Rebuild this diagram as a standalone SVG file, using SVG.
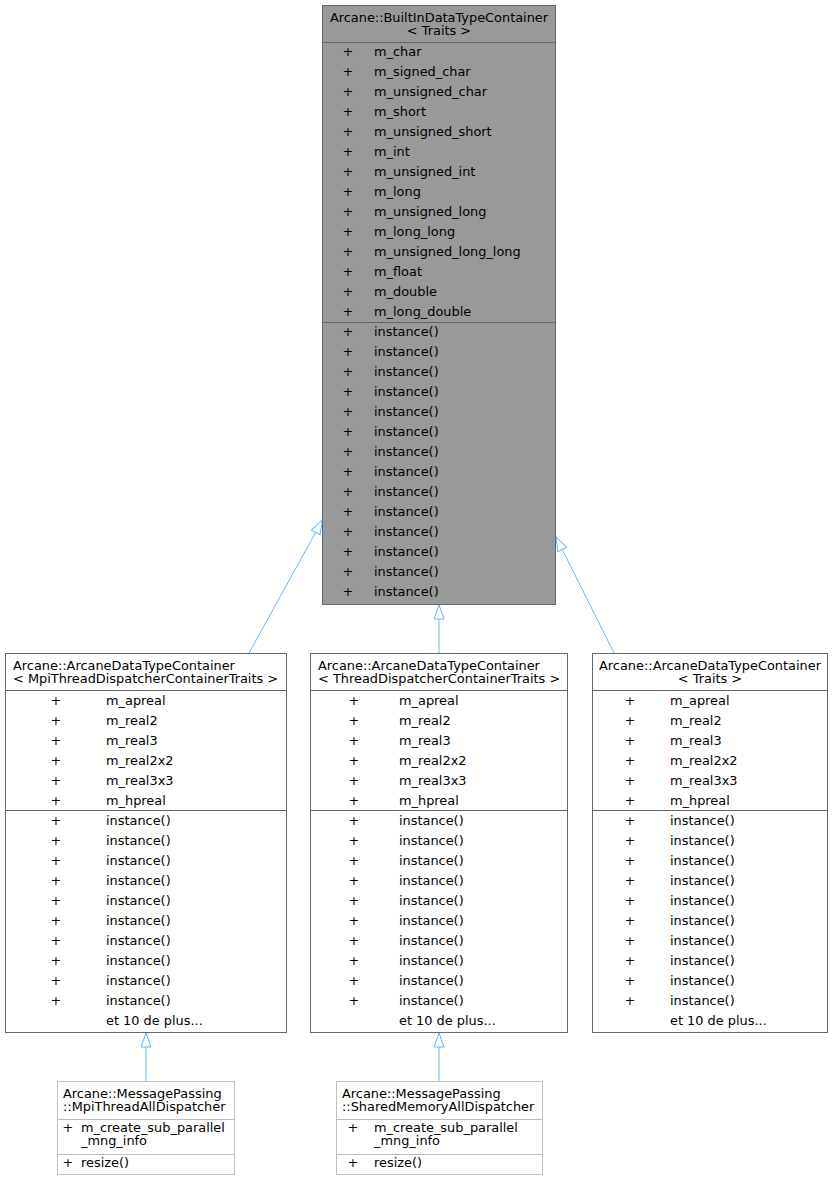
<svg xmlns="http://www.w3.org/2000/svg" width="833" height="1181" viewBox="0 0 833 1181">
<style>
text{font-family:"DejaVu Sans","Liberation Sans",sans-serif;font-size:12.9px;fill:#000}
.c{text-anchor:middle}
.box{fill:#fff;stroke:#666;stroke-width:1}
.grey{fill:#999;stroke:#666;stroke-width:1}
.lt{fill:#fff;stroke:#bfbfbf;stroke-width:1}
.dv{stroke:#666;stroke-width:1}
.dvl{stroke:#bfbfbf;stroke-width:1}
.e{fill:none;stroke:#63b8ff;stroke-width:1;marker-end:url(#arr)}
</style>
<defs>
<marker id="arr" markerUnits="userSpaceOnUse" markerWidth="16" markerHeight="12" refX="15" refY="6" orient="auto">
<path d="M1,1 L15,6 L1,11 Z" fill="#fff" stroke="#63b8ff" stroke-width="1"/>
</marker>
</defs>
<rect width="833" height="1181" fill="#fff"/>

<g id="connectors">
<path class="e" d="M249,653 L322.5,520"/>
<path class="e" d="M439,653 L439,605"/>
<path class="e" d="M614,653 L556,537"/>
<path class="e" d="M146,1081 L146,1033"/>
<path class="e" d="M439,1081 L439,1033"/>
</g>

<g id="builtin">
<rect class="grey" x="322.5" y="5.5" width="233" height="599"/>
<line class="dv" x1="322.5" y1="42.5" x2="555.5" y2="42.5"/>
<line class="dv" x1="322.5" y1="322.5" x2="555.5" y2="322.5"/>
<text class="c" x="439" y="22">Arcane::BuiltInDataTypeContainer</text>
<text class="c" x="439" y="35">&lt; Traits &gt;</text>
<text class="c" x="348" y="56">+</text><text class="c" x="348" y="76">+</text><text class="c" x="348" y="96">+</text><text class="c" x="348" y="116">+</text><text class="c" x="348" y="136">+</text><text class="c" x="348" y="156">+</text><text class="c" x="348" y="176">+</text><text class="c" x="348" y="196">+</text><text class="c" x="348" y="216">+</text><text class="c" x="348" y="236">+</text><text class="c" x="348" y="256">+</text><text class="c" x="348" y="276">+</text><text class="c" x="348" y="296">+</text><text class="c" x="348" y="316">+</text>
<text class="c" x="348" y="336">+</text><text class="c" x="348" y="356">+</text><text class="c" x="348" y="376">+</text><text class="c" x="348" y="396">+</text><text class="c" x="348" y="416">+</text><text class="c" x="348" y="436">+</text><text class="c" x="348" y="456">+</text><text class="c" x="348" y="476">+</text><text class="c" x="348" y="496">+</text><text class="c" x="348" y="516">+</text><text class="c" x="348" y="536">+</text><text class="c" x="348" y="556">+</text><text class="c" x="348" y="576">+</text><text class="c" x="348" y="596">+</text>
<text x="374" y="56">m_char</text>
<text x="374" y="76">m_signed_char</text>
<text x="374" y="96">m_unsigned_char</text>
<text x="374" y="116">m_short</text>
<text x="374" y="136">m_unsigned_short</text>
<text x="374" y="156">m_int</text>
<text x="374" y="176">m_unsigned_int</text>
<text x="374" y="196">m_long</text>
<text x="374" y="216">m_unsigned_long</text>
<text x="374" y="236">m_long_long</text>
<text x="374" y="256">m_unsigned_long_long</text>
<text x="374" y="276">m_float</text>
<text x="374" y="296">m_double</text>
<text x="374" y="316">m_long_double</text>
<text x="374" y="336">instance()</text><text x="374" y="356">instance()</text><text x="374" y="376">instance()</text><text x="374" y="396">instance()</text><text x="374" y="416">instance()</text><text x="374" y="436">instance()</text><text x="374" y="456">instance()</text><text x="374" y="476">instance()</text><text x="374" y="496">instance()</text><text x="374" y="516">instance()</text><text x="374" y="536">instance()</text><text x="374" y="556">instance()</text><text x="374" y="576">instance()</text><text x="374" y="596">instance()</text>
</g>

<g id="mpiContainer">
<rect class="box" x="5.5" y="653.5" width="281" height="379"/>
<line class="dv" x1="5.5" y1="690.5" x2="286.5" y2="690.5"/>
<line class="dv" x1="5.5" y1="810.5" x2="286.5" y2="810.5"/>
<text x="13" y="670">Arcane::ArcaneDataTypeContainer</text>
<text x="13" y="683">&lt; MpiThreadDispatcherContainerTraits &gt;</text>
<text class="c" x="56" y="705">+</text><text class="c" x="56" y="725">+</text><text class="c" x="56" y="745">+</text><text class="c" x="56" y="765">+</text><text class="c" x="56" y="785">+</text><text class="c" x="56" y="805">+</text>
<text class="c" x="56" y="825">+</text><text class="c" x="56" y="845">+</text><text class="c" x="56" y="865">+</text><text class="c" x="56" y="885">+</text><text class="c" x="56" y="905">+</text><text class="c" x="56" y="925">+</text><text class="c" x="56" y="945">+</text><text class="c" x="56" y="965">+</text><text class="c" x="56" y="985">+</text><text class="c" x="56" y="1005">+</text>
<text x="106" y="705">m_apreal</text><text x="106" y="725">m_real2</text><text x="106" y="745">m_real3</text><text x="106" y="765">m_real2x2</text><text x="106" y="785">m_real3x3</text><text x="106" y="805">m_hpreal</text>
<text x="106" y="825">instance()</text><text x="106" y="845">instance()</text><text x="106" y="865">instance()</text><text x="106" y="885">instance()</text><text x="106" y="905">instance()</text><text x="106" y="925">instance()</text><text x="106" y="945">instance()</text><text x="106" y="965">instance()</text><text x="106" y="985">instance()</text><text x="106" y="1005">instance()</text>
<text x="106" y="1025">et 10 de plus...</text>
</g>

<g id="threadContainer">
<rect class="box" x="310.5" y="653.5" width="257" height="379"/>
<line class="dv" x1="310.5" y1="690.5" x2="567.5" y2="690.5"/>
<line class="dv" x1="310.5" y1="810.5" x2="567.5" y2="810.5"/>
<text x="318" y="670">Arcane::ArcaneDataTypeContainer</text>
<text x="318" y="683">&lt; ThreadDispatcherContainerTraits &gt;</text>
<text class="c" x="354" y="705">+</text><text class="c" x="354" y="725">+</text><text class="c" x="354" y="745">+</text><text class="c" x="354" y="765">+</text><text class="c" x="354" y="785">+</text><text class="c" x="354" y="805">+</text>
<text class="c" x="354" y="825">+</text><text class="c" x="354" y="845">+</text><text class="c" x="354" y="865">+</text><text class="c" x="354" y="885">+</text><text class="c" x="354" y="905">+</text><text class="c" x="354" y="925">+</text><text class="c" x="354" y="945">+</text><text class="c" x="354" y="965">+</text><text class="c" x="354" y="985">+</text><text class="c" x="354" y="1005">+</text>
<text x="399" y="705">m_apreal</text><text x="399" y="725">m_real2</text><text x="399" y="745">m_real3</text><text x="399" y="765">m_real2x2</text><text x="399" y="785">m_real3x3</text><text x="399" y="805">m_hpreal</text>
<text x="399" y="825">instance()</text><text x="399" y="845">instance()</text><text x="399" y="865">instance()</text><text x="399" y="885">instance()</text><text x="399" y="905">instance()</text><text x="399" y="925">instance()</text><text x="399" y="945">instance()</text><text x="399" y="965">instance()</text><text x="399" y="985">instance()</text><text x="399" y="1005">instance()</text>
<text x="399" y="1025">et 10 de plus...</text>
</g>

<g id="traitsContainer">
<rect class="box" x="592.5" y="653.5" width="235" height="379"/>
<line class="dv" x1="592.5" y1="690.5" x2="827.5" y2="690.5"/>
<line class="dv" x1="592.5" y1="810.5" x2="827.5" y2="810.5"/>
<text class="c" x="710" y="670">Arcane::ArcaneDataTypeContainer</text>
<text class="c" x="710" y="683">&lt; Traits &gt;</text>
<text class="c" x="630" y="705">+</text><text class="c" x="630" y="725">+</text><text class="c" x="630" y="745">+</text><text class="c" x="630" y="765">+</text><text class="c" x="630" y="785">+</text><text class="c" x="630" y="805">+</text>
<text class="c" x="630" y="825">+</text><text class="c" x="630" y="845">+</text><text class="c" x="630" y="865">+</text><text class="c" x="630" y="885">+</text><text class="c" x="630" y="905">+</text><text class="c" x="630" y="925">+</text><text class="c" x="630" y="945">+</text><text class="c" x="630" y="965">+</text><text class="c" x="630" y="985">+</text><text class="c" x="630" y="1005">+</text>
<text x="670" y="705">m_apreal</text><text x="670" y="725">m_real2</text><text x="670" y="745">m_real3</text><text x="670" y="765">m_real2x2</text><text x="670" y="785">m_real3x3</text><text x="670" y="805">m_hpreal</text>
<text x="670" y="825">instance()</text><text x="670" y="845">instance()</text><text x="670" y="865">instance()</text><text x="670" y="885">instance()</text><text x="670" y="905">instance()</text><text x="670" y="925">instance()</text><text x="670" y="945">instance()</text><text x="670" y="965">instance()</text><text x="670" y="985">instance()</text><text x="670" y="1005">instance()</text>
<text x="670" y="1025">et 10 de plus...</text>
</g>

<g id="mpiThreadAllDispatcher">
<rect class="lt" x="57.5" y="1081.5" width="177" height="93"/>
<line class="dvl" x1="57.5" y1="1119.5" x2="234.5" y2="1119.5"/>
<line class="dvl" x1="57.5" y1="1154.5" x2="234.5" y2="1154.5"/>
<text x="63" y="1098">Arcane::MessagePassing</text>
<text x="63" y="1111">::MpiThreadAllDispatcher</text>
<text class="c" x="68" y="1132">+</text>
<text x="81" y="1132">m_create_sub_parallel</text>
<text x="81" y="1145">_mng_info</text>
<text class="c" x="68" y="1167">+</text>
<text x="81" y="1167">resize()</text>
</g>

<g id="sharedMemoryAllDispatcher">
<rect class="lt" x="336.5" y="1081.5" width="206" height="93"/>
<line class="dvl" x1="336.5" y1="1119.5" x2="542.5" y2="1119.5"/>
<line class="dvl" x1="336.5" y1="1154.5" x2="542.5" y2="1154.5"/>
<text x="342" y="1098">Arcane::MessagePassing</text>
<text x="342" y="1111">::SharedMemoryAllDispatcher</text>
<text class="c" x="353" y="1132">+</text>
<text x="374" y="1132">m_create_sub_parallel</text>
<text x="374" y="1145">_mng_info</text>
<text class="c" x="353" y="1167">+</text>
<text x="374" y="1167">resize()</text>
</g>
</svg>
